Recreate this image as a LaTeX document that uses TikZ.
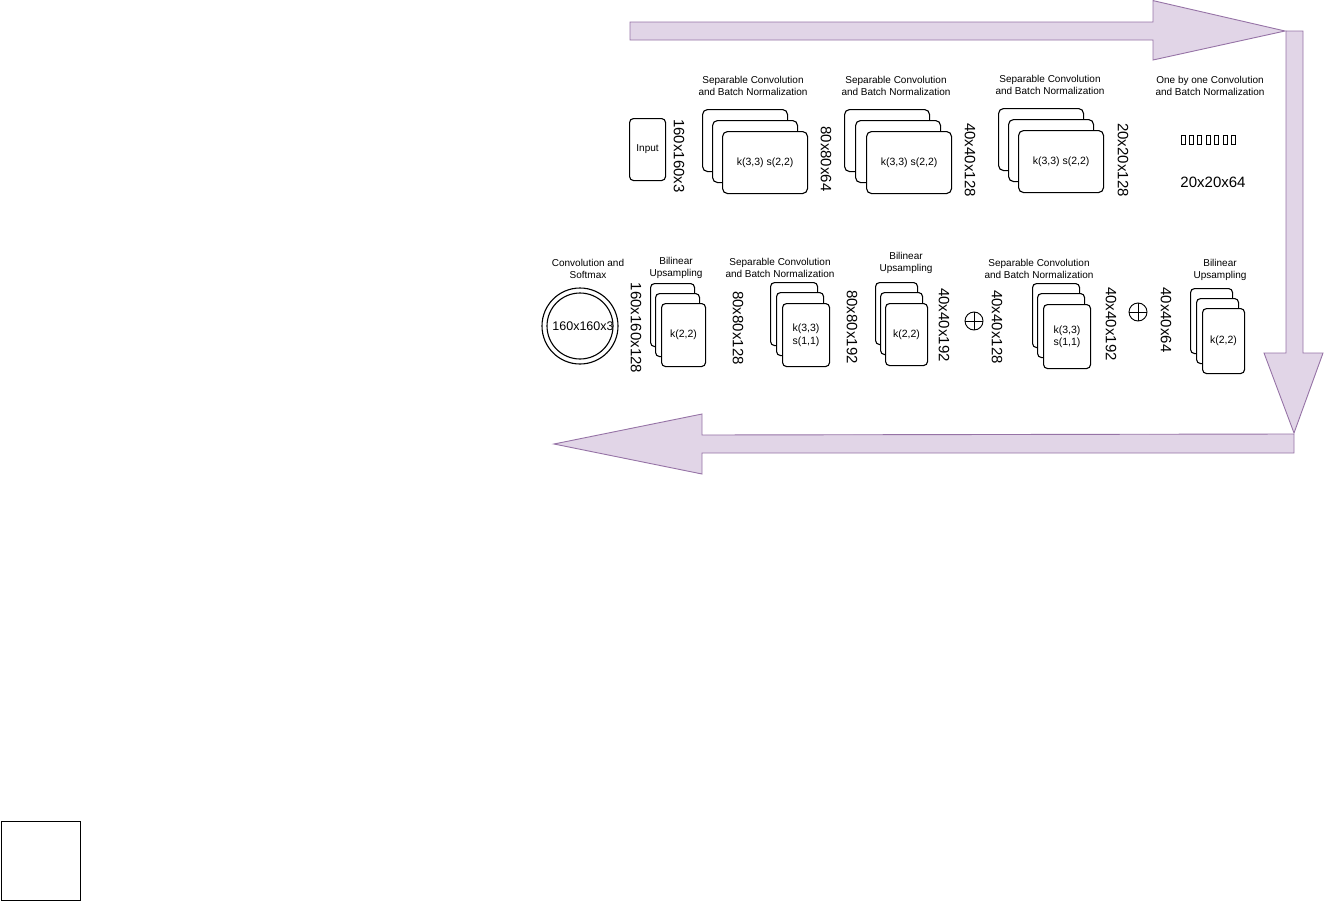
\documentclass[tikz,border=0pt]{standalone}
\usepackage{fontspec}
\setmainfont{Liberation Sans}
\definecolor{arrowfill}{HTML}{E1D5E7}
\definecolor{arrowdraw}{HTML}{9673A6}
\begin{document}
\begin{tikzpicture}[x=1pt,y=-1pt,
 card/.style={draw, fill=white, rounded corners=5pt, line width=1.1pt, anchor=north west, inner sep=0pt, font=\fontsize{10.5}{12.5}\selectfont, align=center},
 topcard/.style={card, minimum width=85pt, minimum height=62pt},
 title/.style={font=\fontsize{10}{12}\selectfont, align=center, inner sep=0pt},
 dimlabel/.style={font=\fontsize{15}{15}\selectfont, rotate=-90, inner sep=0pt},
 flatlabel/.style={font=\fontsize{15}{15}\selectfont, inner sep=0pt},
 flow/.style={fill=arrowfill, draw=arrowdraw, line width=0.9pt, line join=miter},
 plus/.style={circle, draw, line width=0.9pt, minimum size=18pt, inner sep=0pt},
 tofu/.style={draw, line width=0.7pt, anchor=north west, minimum width=4pt, minimum height=9pt, inner sep=0pt},
]
\useasboundingbox (0,0) rectangle (1325,902);

% ---- big flow arrows
\draw[flow] (630,22) -- (1153,22) -- (1153,0.6) -- (1285,31) -- (1153,60) -- (1153,40) -- (630,40) -- cycle;
\draw[flow] (1286,31) -- (1303,31) -- (1303,353) -- (1323,353) -- (1294,433) -- (1264,353) -- (1286,353) -- cycle;
\draw[flow] (1294,434) -- (1294,453) -- (702,453) -- (702,474) -- (554,444) -- (702,414) -- (702,435) -- cycle;

% ---- top row
\node[card, minimum width=36pt, minimum height=62pt, rounded corners=4pt, font=\fontsize{10}{12}\selectfont] (input) at (629,118) {Input};
\node[dimlabel] (d1) at (679,156) {160x160x3};

\node[title] (t1) at (753,86) {Separable Convolution\\and Batch Normalization};
\node[topcard] (s1a) at (702,109) {};
\node[topcard] (s1b) at (712,120) {};
\node[topcard] (s1c) at (722,131) {k(3,3) s(2,2)};
\node[dimlabel] (d2) at (826,159) {80x80x64};

\node[title] (t2) at (896,86) {Separable Convolution\\and Batch Normalization};
\node[topcard] (s2a) at (844,109) {};
\node[topcard] (s2b) at (855,120) {};
\node[topcard] (s2c) at (866,131) {k(3,3) s(2,2)};
\node[dimlabel] (d3) at (970,160) {40x40x128};

\node[title] (t3) at (1050,85) {Separable Convolution\\and Batch Normalization};
\node[topcard] (s3a) at (998,108) {};
\node[topcard] (s3b) at (1008,119) {};
\node[topcard] (s3c) at (1018,130) {k(3,3) s(2,2)};
\node[dimlabel] (d4) at (1123,160) {20x20x128};

\node[title] (t4) at (1210,86) {One by one Convolution\\and Batch Normalization};
\foreach \i in {0,...,6} {
  \node[tofu] (tf\i) at ({1180.5+8.4*\i},135) {};
}
\node[flatlabel] (d5) at (1213,182) {20x20x64};

% ---- bottom row
\node[title] (t5) at (588,269) {Convolution and\\Softmax};
\node[circle, draw, line width=1.1pt, minimum size=76pt, inner sep=0pt] (outc) at (580,326) {};
\node[circle, draw, line width=1.1pt, minimum size=66pt, inner sep=0pt] (inc) at (580,326) {};
\node[font=\fontsize{12.5}{14}\selectfont, inner sep=0pt] (outtxt) at (583,326) {160x160x3};
\node[dimlabel] (d6) at (636,328) {160x160x128};

\node[title] (t6) at (676,268) {Bilinear\\Upsampling};
\node[card, minimum width=44pt, minimum height=63pt, rounded corners=4pt] (b1a) at (650,283) {};
\node[card, minimum width=44pt, minimum height=63pt, rounded corners=4pt] (b1b) at (655,293) {};
\node[card, minimum width=44pt, minimum height=63pt, rounded corners=4pt] (b1c) at (661,303) {k(2,2)};
\node[dimlabel] (d7) at (738,328) {80x80x128};

\node[title] (t7) at (780,268) {Separable Convolution\\and Batch Normalization};
\node[card, minimum width=47pt, minimum height=63pt, rounded corners=4pt] (b2a) at (770,282) {};
\node[card, minimum width=47pt, minimum height=63pt, rounded corners=4pt] (b2b) at (776,292) {};
\node[card, minimum width=47pt, minimum height=63pt, rounded corners=4pt] (b2c) at (782,303) {k(3,3)\\s(1,1)};
\node[dimlabel] (d8) at (852,327) {80x80x192};

\node[title] (t8) at (906,263) {Bilinear\\Upsampling};
\node[card, minimum width=42pt, minimum height=62pt, rounded corners=4pt] (b3a) at (875,282) {};
\node[card, minimum width=42pt, minimum height=62pt, rounded corners=4pt] (b3b) at (880,292) {};
\node[card, minimum width=42pt, minimum height=62pt, rounded corners=4pt] (b3c) at (885,303) {k(2,2)};
\node[dimlabel] (d9) at (944,325) {40x40x192};

\node[plus] (p1) at (974,321) {};
\draw[line width=0.9pt] (p1.north) -- (p1.south) (p1.west) -- (p1.east);
\node[dimlabel] (d10) at (997,327) {40x40x128};

\node[title] (t9) at (1039,269) {Separable Convolution\\and Batch Normalization};
\node[card, minimum width=47pt, minimum height=64pt, rounded corners=4pt] (b4a) at (1032,283) {};
\node[card, minimum width=47pt, minimum height=64pt, rounded corners=4pt] (b4b) at (1037,293) {};
\node[card, minimum width=47pt, minimum height=64pt, rounded corners=4pt] (b4c) at (1043,304) {k(3,3)\\s(1,1)};
\node[dimlabel] (d11) at (1111,324) {40x40x192};

\node[plus] (p2) at (1138,312) {};
\draw[line width=0.9pt] (p2.north) -- (p2.south) (p2.west) -- (p2.east);
\node[dimlabel] (d12) at (1166,320) {40x40x64};

\node[title] (t10) at (1220,270) {Bilinear\\Upsampling};
\node[card, minimum width=42pt, minimum height=65pt, rounded corners=4pt] (b5a) at (1190,288) {};
\node[card, minimum width=42pt, minimum height=65pt, rounded corners=4pt] (b5b) at (1196,298) {};
\node[card, minimum width=42pt, minimum height=65pt, rounded corners=4pt] (b5c) at (1202,308) {k(2,2)};

% ---- lone square bottom left
\node[draw, line width=1.3pt, anchor=north west, minimum width=79pt, minimum height=79pt, inner sep=0pt] (sq) at (0.7,821) {};
\end{tikzpicture}
\end{document}
